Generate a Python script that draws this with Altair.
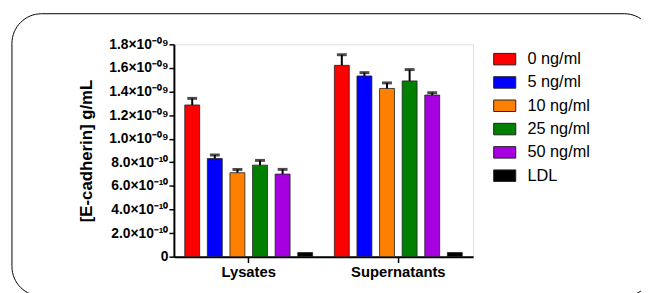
import altair as alt
import pandas as pd

groups = ["Lysates", "Supernatants"]
concs = ["0 ng/ml", "5 ng/ml", "10 ng/ml", "25 ng/ml", "50 ng/ml", "LDL"]
colors = ["#FF0000", "#0000FF", "#FF8000", "#007F00", "#A400E0", "#000000"]

lysates_mean = [1.286e-9, 0.832e-9, 0.712e-9, 0.776e-9, 0.700e-9, 0.035e-9]
lysates_err = [0.056e-9, 0.030e-9, 0.027e-9, 0.040e-9, 0.040e-9, 0.0]
super_mean = [1.622e-9, 1.532e-9, 1.426e-9, 1.490e-9, 1.370e-9, 0.035e-9]
super_err = [0.090e-9, 0.028e-9, 0.047e-9, 0.096e-9, 0.020e-9, 0.0]

y_ticks = [0, 2e-10, 4e-10, 6e-10, 8e-10, 1.0e-9, 1.2e-9, 1.4e-9, 1.6e-9, 1.8e-9]
y_labels = ["0", "2.0×10⁻¹⁰", "4.0×10⁻¹⁰", "6.0×10⁻¹⁰", "8.0×10⁻¹⁰",
            "1.0×10⁻⁰⁹", "1.2×10⁻⁰⁹", "1.4×10⁻⁰⁹", "1.6×10⁻⁰⁹", "1.8×10⁻⁰⁹"]

rows = []
for g, means, errs in [(groups[0], lysates_mean, lysates_err), (groups[1], super_mean, super_err)]:
    for c, m, e in zip(concs, means, errs):
        rows.append({"group": g, "conc": c, "mean": m, "err": e, "top": m + e})
df = pd.DataFrame(rows)

label_expr = "[" + ",".join("'" + l + "'" for l in y_labels) + "][round(datum.value/2e-10)]"

x_axis = alt.Axis(title=None, labelAngle=0, labelFont="Liberation Sans",
                  labelFontSize=15, labelFontWeight="bold", labelColor="black",
                  tickSize=6, tickWidth=1.5, tickColor="black",
                  domainColor="black", domainWidth=2, labelPadding=2)
y_axis = alt.Axis(title="[E-cadherin] g/mL", values=y_ticks, labelExpr=label_expr,
                  labelOverlap=False,
                  labelFont="Liberation Sans", labelFontSize=14, labelFontWeight="bold",
                  labelColor="black", tickSize=5, tickWidth=1.5, tickColor="black",
                  domainColor="black", domainWidth=2, labelPadding=1, grid=False,
                  titleFont="Liberation Sans", titleFontSize=17, titleFontWeight="bold",
                  titleColor="black", titleX=-88, titleY=107.5, titleAlign="center",
                  titleBaseline="middle", titleAngle=-90)
x_scale = alt.Scale(paddingInner=0, paddingOuter=0)
xo_scale = alt.Scale(paddingInner=0.34, paddingOuter=0.48)
y_scale = alt.Scale(domain=[0, 1.8e-9], nice=False)

def xenc():
    return alt.X("group:N", sort=groups, scale=x_scale, axis=x_axis)

def xoenc():
    return alt.XOffset("conc:N", sort=concs, scale=xo_scale)

bars = alt.Chart(df).mark_bar(stroke="#222222", strokeWidth=0.8).encode(
    x=xenc(),
    xOffset=xoenc(),
    y=alt.Y("mean:Q", scale=y_scale, axis=y_axis),
    color=alt.Color("conc:N", sort=concs, title=None,
                    scale=alt.Scale(domain=concs, range=colors),
                    legend=alt.Legend(orient="none", legendX=323, legendY=3, padding=0,
                                      symbolType="M-1,-0.52H1V0.52H-1Z", symbolSize=500,
                                      symbolStrokeColor="#222222", symbolStrokeWidth=1,
                                      symbolOpacity=1,
                                      labelFont="Liberation Sans", labelFontSize=16.5,
                                      labelColor="black", labelOffset=11, rowPadding=2.6)),
)

err_df = df[df["err"] > 0]
rules = alt.Chart(err_df).mark_rule(color="black", strokeWidth=2).encode(
    x=xenc(), xOffset=xoenc(),
    y=alt.Y("mean:Q", scale=y_scale, axis=y_axis), y2="top:Q")
caps = alt.Chart(err_df).mark_tick(color="black", thickness=3, size=10).encode(
    x=xenc(), xOffset=xoenc(),
    y=alt.Y("top:Q", scale=y_scale, axis=y_axis))

frame = alt.Chart(pd.DataFrame({"a": [0]})).mark_rect(
    filled=False, stroke="black", strokeWidth=1, cornerRadius=30).encode(
    x=alt.value(-164), x2=alt.value(486), y=alt.value(-31), y2=alt.value(255))

chart = alt.layer(frame, bars, rules, caps).properties(
    width=303, height=215,
    padding={"left": 168, "top": 35, "right": 170, "bottom": 35},
    autosize=alt.AutoSizeParams(type="none"),
).configure_view(strokeWidth=0).configure(background="white")

chart.save("out.html", embed_options={"renderer": "svg", "actions": False})
